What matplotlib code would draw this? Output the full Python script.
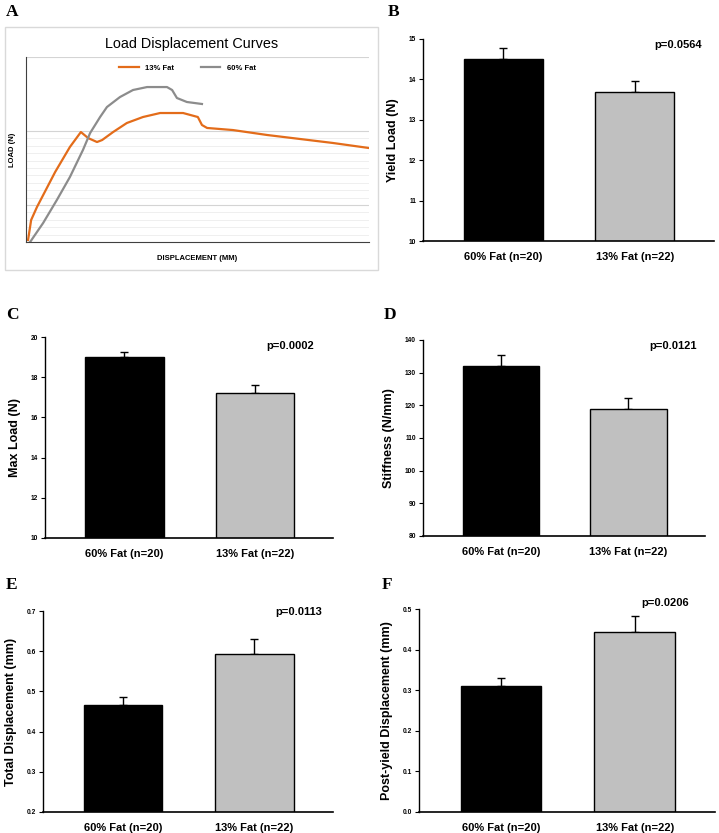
import numpy as np
import matplotlib.pyplot as plt
from matplotlib.patches import Rectangle

plt.rcParams['font.family'] = ['Liberation Sans', 'DejaVu Sans']

# panel A - load displacement curves (arbitrary units)
disp13 = [0.006, 0.015, 0.032, 0.085, 0.128, 0.160, 0.181, 0.207, 0.222, 0.254, 0.294,
          0.341, 0.391, 0.458, 0.501, 0.513, 0.528, 0.603, 0.703, 0.799, 0.895, 1.0]
load13 = [0.27, 2.97, 4.73, 9.46, 12.84, 14.86, 14.05, 13.51, 13.78, 14.86, 16.08,
          16.89, 17.43, 17.43, 16.89, 15.81, 15.41, 15.13, 14.46, 13.92, 13.38, 12.70]
disp60 = [0.012, 0.050, 0.090, 0.128, 0.166, 0.187, 0.216, 0.236, 0.274, 0.312, 0.353,
          0.411, 0.426, 0.440, 0.469, 0.513]
load60 = [0.0, 2.57, 5.68, 8.78, 12.43, 14.73, 16.89, 18.24, 19.59, 20.54, 20.94,
          20.94, 20.54, 19.46, 18.92, 18.65]

# bar panels
groups = ['60% Fat (n=20)', '13% Fat (n=22)']
yield_load = [14.5, 13.7]
yield_err = [0.28, 0.27]
max_load = [19.0, 17.2]
max_err = [0.25, 0.4]
stiffness = [132.0, 118.8]
stiff_err = [3.4, 3.5]
total_disp = [0.466, 0.593]
total_err = [0.021, 0.037]
post_disp = [0.31, 0.443]
post_err = [0.021, 0.039]

W, H = 719, 833
fig = plt.figure(figsize=(W / 100, H / 100), dpi=100)


def box(l, t, r, b):
    # pixel box -> figure fraction [left, bottom, width, height]
    return [l / W, 1 - b / H, (r - l) / W, (b - t) / H]


# ---- panel A ----
fig.patches.append(Rectangle((5 / W, 1 - 270 / H), 373 / W, 243 / H, transform=fig.transFigure,
                             fill=False, edgecolor='#d9d9d9', linewidth=1))
axA = fig.add_axes(box(26, 57, 369, 242))
for g in np.arange(1, 15):
    axA.axhline(g, color='#ececec', linewidth=0.6, zorder=0)
for g in [5, 15, 25]:
    axA.axhline(g, color='#d4d4d4', linewidth=0.8, zorder=0)
axA.plot(disp13, load13, color='#e36c1a', linewidth=1.6, label='13% Fat')
axA.plot(disp60, load60, color='#8c8c8c', linewidth=1.6, label='60% Fat')
axA.set_xlim(0, 1.0)
axA.set_ylim(0, 25)
axA.set_xticks([])
axA.set_yticks([])
for s in ['top', 'right']:
    axA.spines[s].set_visible(False)
axA.spines['left'].set_color('#404040')
axA.spines['bottom'].set_color('#404040')
axA.set_xlabel('DISPLACEMENT (MM)', fontsize=5.5, fontweight='bold', labelpad=9)
axA.set_ylabel('LOAD (N)', fontsize=5.5, fontweight='bold', labelpad=7)
axA.legend(loc='center', bbox_to_anchor=(0.47, 0.94), ncol=2, frameon=False,
           prop={'weight': 'bold', 'size': 5.5}, handlelength=2.6,
           columnspacing=3.5, handletextpad=0.8)
fig.text(192 / W, 1 - 44 / H, 'Load Displacement Curves', ha='center', va='center', fontsize=10.4)


def bar_panel(rect, vals, errs, ylim, yticks, ylabel, ptext, ppos, ticklabels):
    ax = fig.add_axes(rect)
    x = np.arange(len(groups))
    ax.bar(x, vals, width=0.6, color=['black', '#c0c0c0'], edgecolor='black', linewidth=1.0, zorder=2)
    ax.errorbar(x, vals, yerr=[[0, 0], errs], fmt='none', ecolor='black', elinewidth=1.0,
                capsize=3, capthick=1.0, zorder=1)
    ax.set_xlim(-0.61, 1.6)
    ax.set_ylim(*ylim)
    ax.set_yticks(yticks)
    ax.set_yticklabels(ticklabels, fontsize=4.8, fontweight='bold')
    ax.set_xticks(x)
    ax.set_xticklabels(groups, fontsize=8, fontweight='bold')
    ax.tick_params(axis='x', length=0, pad=8)
    ax.tick_params(axis='y', length=3, width=0.8, pad=2)
    for s in ['top', 'right']:
        ax.spines[s].set_visible(False)
    ax.spines['left'].set_linewidth(1.0)
    ax.spines['bottom'].set_linewidth(1.2)
    ax.set_ylabel(ylabel, fontsize=9, fontweight='bold', labelpad=7)
    ax.text(ppos[0], ppos[1], ptext, transform=ax.transAxes, ha='center', va='center',
            fontsize=8, fontweight='bold')
    return ax


bar_panel(box(423, 39, 714, 241), yield_load, yield_err, (10, 15), [10, 11, 12, 13, 14, 15],
          'Yield Load (N)', 'p=0.0564', (0.876, 0.97), ['10', '11', '12', '13', '14', '15'])
bar_panel(box(45, 337, 333, 538), max_load, max_err, (10, 20), [10, 12, 14, 16, 18, 20],
          'Max Load (N)', 'p=0.0002', (0.85, 0.955), ['10', '12', '14', '16', '18', '20'])
bar_panel(box(423, 340, 705, 536), stiffness, stiff_err, (80, 140), [80, 90, 100, 110, 120, 130, 140],
          'Stiffness (N/mm)', 'p=0.0121', (0.887, 0.97),
          ['80', '90', '100', '110', '120', '130', '140'])
bar_panel(box(43, 611, 333, 812), total_disp, total_err, (0.2, 0.7), [0.2, 0.3, 0.4, 0.5, 0.6, 0.7],
          'Total Displacement (mm)', 'p=0.0113', (0.88, 0.995),
          ['0.2', '0.3', '0.4', '0.5', '0.6', '0.7'])
bar_panel(box(419, 609, 715, 812), post_disp, post_err, (0.0, 0.5), [0.0, 0.1, 0.2, 0.3, 0.4, 0.5],
          'Post-yield Displacement (mm)', 'p=0.0206', (0.83, 1.03),
          ['0.0', '0.1', '0.2', '0.3', '0.4', '0.5'])

# panel letters
letters = ['A', 'B', 'C', 'D', 'E', 'F']
letter_pos = [(12, 12), (394, 12), (12, 315), (390, 315), (12, 585), (387, 585)]
for lab, (px, py) in zip(letters, letter_pos):
    fig.text(px / W, 1 - py / H, lab, ha='center', va='center', fontsize=12.5, fontweight='bold',
             family='Liberation Serif')

fig.savefig('out.png', dpi=100)
